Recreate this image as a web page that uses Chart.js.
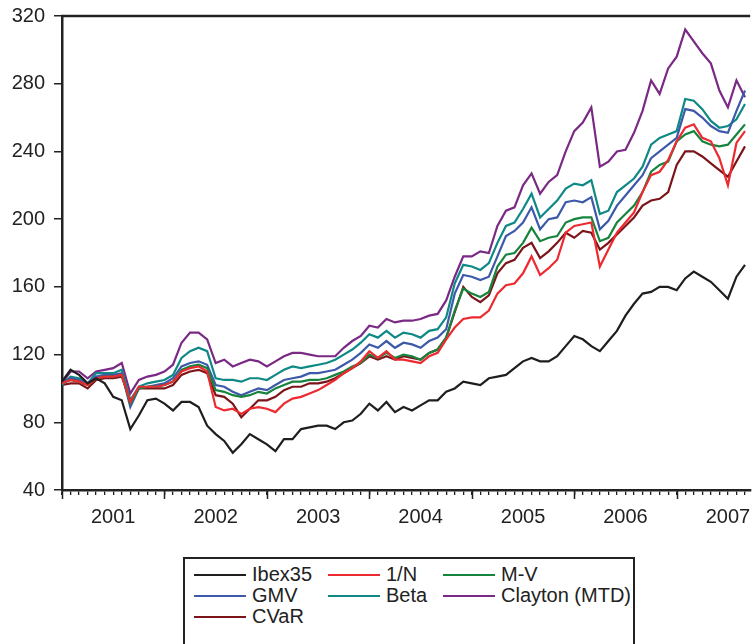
<!DOCTYPE html>
<html>
<head>
<meta charset="utf-8">
<script src="https://cdn.jsdelivr.net/npm/chart.js@4.4.1/dist/chart.umd.min.js"></script>
<style>
  body { margin: 0; background: #fff; overflow: hidden; font-family: 'Liberation Sans', Arial, sans-serif; }
  #wrap { position: relative; width: 755px; height: 644px; overflow: hidden; }
  #chart { position: absolute; left: 0; top: -5px; }
  #legend {
    position: absolute; left: 183px; top: 557px; width: 452px; height: 110px;
    border: 2.5px solid #222; box-sizing: border-box; padding: 5px 0 0 9px;
    display: grid; grid-template-columns: 134px 115px auto; grid-auto-rows: 21px;
    font-size: 20px; color: #222;
  }
  #legend .item { display: flex; align-items: center; white-space: nowrap; }
  #legend .swatch { width: 52px; height: 0; border-top: 2px solid; margin-right: 6px; }
</style>
</head>
<body>
<div id="wrap">
  <canvas id="chart" width="755" height="550"></canvas>
  <div id="legend"></div>
</div>
<script>
// monthly observations, Jan 2001 - Sep 2007
const months = [
  '2001-01','2001-02','2001-03','2001-04','2001-05','2001-06','2001-07','2001-08','2001-09','2001-10','2001-11','2001-12',
  '2002-01','2002-02','2002-03','2002-04','2002-05','2002-06','2002-07','2002-08','2002-09','2002-10','2002-11','2002-12',
  '2003-01','2003-02','2003-03','2003-04','2003-05','2003-06','2003-07','2003-08','2003-09','2003-10','2003-11','2003-12',
  '2004-01','2004-02','2004-03','2004-04','2004-05','2004-06','2004-07','2004-08','2004-09','2004-10','2004-11','2004-12',
  '2005-01','2005-02','2005-03','2005-04','2005-05','2005-06','2005-07','2005-08','2005-09','2005-10','2005-11','2005-12',
  '2006-01','2006-02','2006-03','2006-04','2006-05','2006-06','2006-07','2006-08','2006-09','2006-10','2006-11','2006-12',
  '2007-01','2007-02','2007-03','2007-04','2007-05','2007-06','2007-07','2007-08','2007-09'
];
const yearLabels = ['2001', '2002', '2003', '2004', '2005', '2006', '2007'];
const yTicks = [40, 80, 120, 160, 200, 240, 280, 320];

const ibex35 = [104,111,108,103,106,103,95,93,76,84, 93,94,91,87,92,92,89,78,73,69,
  62,67,73,70,67,63,70,70,76,77, 78,78,76,80,81,85,91,87,92,86,
  89,87,90,93,93,98,100,104,103,102, 106,107,108,112,116,118,116,116,119,125,
  131,129,125,122,128,134,143,150,156,157, 160,160,158,165,169,166,163,158,153,166, 173];
const unoN = [103,105,104,102,106,107,107,108,92,101, 101,101,102,104,110,112,113,110,89,87,
  88,85,88,89,88,86,91,94,95,97, 99,102,105,109,112,116,122,118,122,117,
  117,116,115,119,121,129,136,141,142,142, 146,156,161,162,168,178,167,171,176,192,
  196,197,198,172,182,192,198,204,216,226, 228,235,246,254,256,248,246,236,220,245, 252];
const mv = [103,105,104,102,106,107,107,108,91,100, 101,101,102,104,111,113,114,112,99,98,
  96,95,96,98,97,100,102,104,104,105, 105,106,108,110,113,115,120,118,121,118,
  120,119,117,121,123,130,146,159,156,154, 157,172,179,180,186,195,187,189,190,198,
  200,201,201,187,189,198,203,208,216,228, 232,234,246,250,252,246,244,243,244,250, 256];
const gmv = [103,106,105,103,107,108,108,109,89,100, 101,102,103,106,113,115,116,114,102,101,
  98,96,98,100,99,102,105,106,107,109, 109,110,111,114,117,121,126,124,128,124,
  127,126,124,128,130,135,156,167,166,164, 166,178,190,193,198,207,194,200,201,210,
  211,210,213,194,199,208,214,220,226,236, 240,244,248,265,264,260,255,252,251,264, 276];
const beta = [102,107,106,103,109,109,109,111,93,101, 103,104,105,108,118,122,124,122,106,105,
  105,104,106,106,105,108,111,113,112,113, 114,115,117,120,123,127,132,130,134,130,
  133,132,130,134,135,142,162,173,172,170, 174,186,196,198,206,215,201,206,211,218,
  221,220,223,203,205,216,220,224,231,244, 248,250,252,271,270,265,258,254,255,259, 268];
const clayton = [103,110,110,106,110,111,112,115,97,105, 107,108,110,114,127,133,133,129,115,117,
  113,115,117,116,113,116,119,121,121,120, 119,119,119,124,128,131,137,136,141,139,
  140,140,141,143,144,152,166,178,178,181, 180,196,205,207,220,227,215,222,226,240,
  252,257,266,231,234,240,241,251,264,282, 274,289,296,312,305,298,292,276,266,282, 272];
const cvar = [102,103,103,100,105,106,106,107,93,100, 100,100,100,102,108,110,111,109,96,95,
  91,83,88,93,93,95,99,101,101,103, 103,104,106,109,112,115,119,117,119,117,
  119,118,117,121,123,130,145,160,154,151, 155,168,174,176,183,186,177,181,186,192,
  189,193,192,182,186,191,196,201,208,211, 212,216,232,240,240,237,233,229,225,234, 243];

const toYear = m => Number(m.slice(0, 4)) + (Number(m.slice(5, 7)) - 1) / 12;
const xs = months.map(toYear);
const pts = values => values.map((v, i) => ({ x: xs[i], y: v }));

const series = [
  { label: 'Ibex35', data: ibex35, color: '#1e1e1e' },
  { label: '1/N', data: unoN, color: '#ec2a30' },
  { label: 'M-V', data: mv, color: '#17843d' },
  { label: 'GMV', data: gmv, color: '#3d59a9' },
  { label: 'Beta', data: beta, color: '#0e8985' },
  { label: 'Clayton (MTD)', data: clayton, color: '#7a2984' },
  { label: 'CVaR', data: cvar, color: '#7b1519' }
];

const firstYear = Number(yearLabels[0]);
const xMax = firstYear + 6.717;
const ink = '#222';

// top frame line and the longer year ticks
const frame = {
  id: 'frame',
  afterDraw(chart) {
    const { ctx, chartArea: a, scales: { x } } = chart;
    ctx.save();
    ctx.strokeStyle = ink;
    ctx.lineWidth = 2.5;
    ctx.beginPath();
    ctx.moveTo(a.left - 1, a.top);
    ctx.lineTo(a.right, a.top);
    ctx.stroke();
    ctx.lineWidth = 1.5;
    ctx.beginPath();
    yearLabels.forEach(y => {
      const px = Math.round(x.getPixelForValue(Number(y))) + 0.5;
      ctx.moveTo(px, a.bottom);
      ctx.lineTo(px, a.bottom + 9);
    });
    ctx.stroke();
    ctx.restore();
  }
};

const chart = new Chart(document.getElementById('chart').getContext('2d'), {
  type: 'line',
  data: {
    datasets: series.map(s => ({
      label: s.label,
      data: pts(s.data),
      borderColor: s.color,
      backgroundColor: s.color,
      borderWidth: 2.2,
      pointRadius: 0,
      tension: 0
    }))
  },
  options: {
    responsive: false,
    animation: false,
    layout: { padding: { top: 3, right: 0, left: 0, bottom: 0 } },
    plugins: { legend: { display: false }, tooltip: { enabled: false } },
    scales: {
      x: {
        type: 'linear',
        min: firstYear,
        max: xMax,
        afterFit: s => { s.height = 55; },
        afterBuildTicks: s => { s.ticks = xs.map(v => ({ value: v })); },
        grid: { drawOnChartArea: false, tickLength: 5, color: ink, lineWidth: 1.3 },
        border: { display: true, color: ink, width: 2.5 },
        ticks: {
          autoSkip: false,
          maxRotation: 0,
          padding: 10,
          color: ink,
          font: { family: "'Liberation Sans', Arial", size: 20 },
          callback: (v, i) => months[i] && months[i].endsWith('-07') ? months[i].slice(0, 4) : ''
        }
      },
      y: {
        min: yTicks[0],
        max: yTicks[yTicks.length - 1],
        afterFit: s => { s.width = 62; },
        afterBuildTicks: s => { s.ticks = yTicks.map(v => ({ value: v })); },
        grid: { drawOnChartArea: false, tickLength: 8, color: ink, lineWidth: 1.5 },
        border: { display: true, color: ink, width: 2.5 },
        ticks: {
          padding: 9,
          color: ink,
          font: { family: "'Liberation Sans', Arial", size: 20 }
        }
      }
    }
  },
  plugins: [frame]
});

const legend = document.getElementById('legend');
series.forEach(s => {
  const item = document.createElement('div');
  item.className = 'item';
  item.innerHTML = '<span class="swatch" style="border-color:' + s.color + '"></span>' + s.label;
  legend.appendChild(item);
});
</script>
</body>
</html>
